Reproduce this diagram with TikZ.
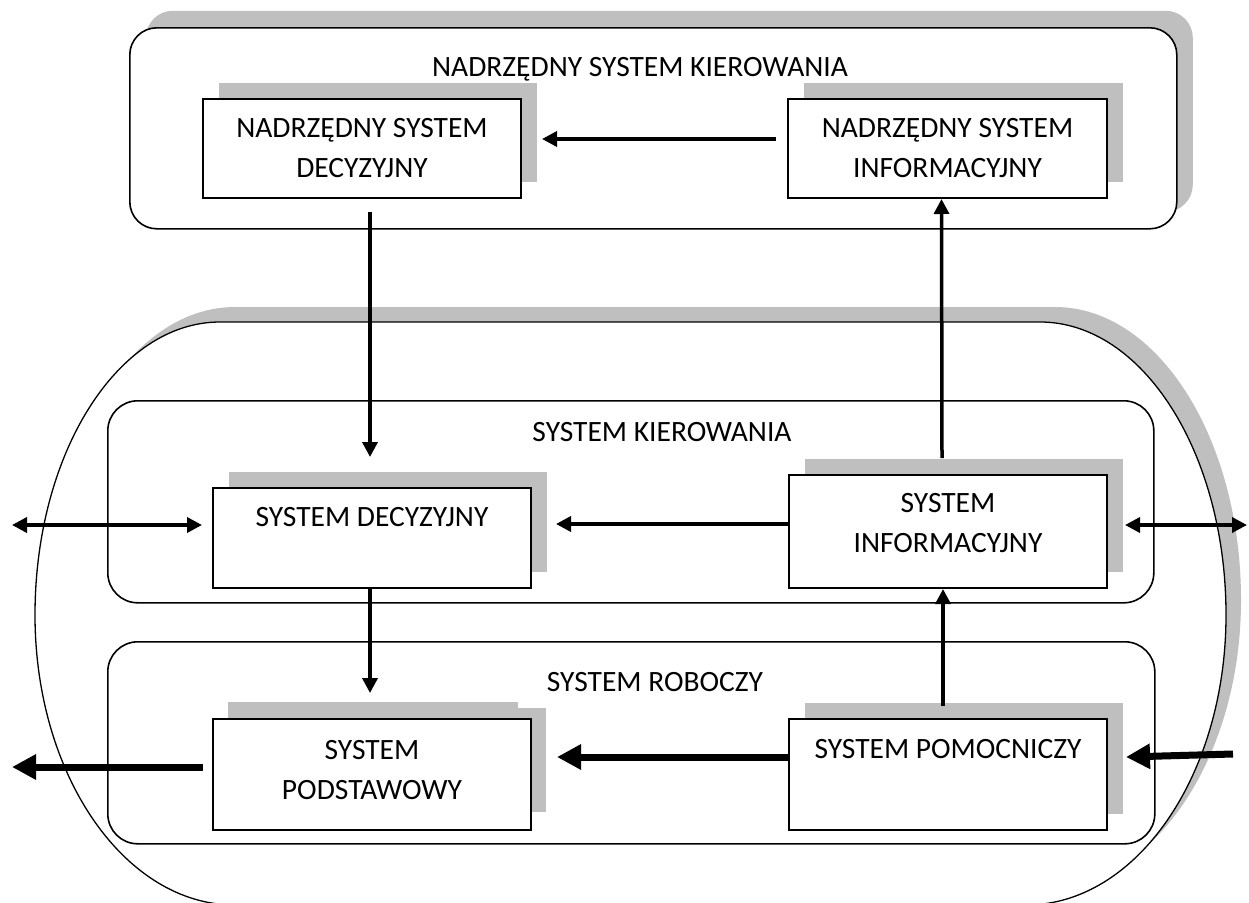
\documentclass[tikz,border=0pt]{standalone}
\usepackage{fontspec}
\setmainfont{Carlito}
\usetikzlibrary{arrows.meta,calc,shadows}
\definecolor{shadowgray}{RGB}{191,191,191}
\tikzset{
  panel/.style={draw, line width=1.6pt, rounded corners=30pt, fill=white, inner sep=0pt, anchor=north west},
  sysbox/.style={draw, line width=2pt, fill=white, inner sep=0pt, anchor=north west, minimum width=318pt},
  boxshadow/.style={general shadow={fill=shadowgray, shadow xshift=16pt, shadow yshift=16pt}},
  caption/.style={font=\fontsize{29.5}{40}\selectfont, align=center, inner sep=0pt, anchor=north},
  flow/.style={line width=3.5pt, -{Triangle[length=15pt,width=15pt]}},
  heavy/.style={line width=7pt, -{Triangle[length=24pt,width=24pt]}},
  twoway/.style={line width=3.5pt, {Triangle[length=15pt,width=15pt]}-{Triangle[length=15pt,width=15pt]}},
}
\begin{document}
\begin{tikzpicture}[x=1pt,y=-1pt]
\useasboundingbox (0,0) rectangle (1249,902);

% organisation outline (object boundary)
\path[draw, line width=1.3pt, fill=white,
      general shadow={fill=shadowgray, shadow xshift=15pt, shadow yshift=15pt}]
  (220,322) arc[start angle=270, end angle=180, x radius=185, y radius=293]
  arc[start angle=180, end angle=90, x radius=200, y radius=290]
  -- (1026,905)
  arc[start angle=90, end angle=0, x radius=200, y radius=290]
  arc[start angle=0, end angle=-90, x radius=186, y radius=293]
  -- cycle;

% superior control system panel
\node[panel, rounded corners=27pt, minimum width=1047pt, minimum height=201pt,
      general shadow={fill=shadowgray, shadow xshift=16pt, shadow yshift=17pt}] (nsk) at (129,27) {};
\node[caption] (nsk-t) at (640,57) {NADRZĘDNY SYSTEM KIEROWANIA};

% control system and working system panels
\node[panel, minimum width=1046pt, minimum height=202pt] (sk) at (107,400) {};
\node[caption] (sk-t) at (662,422) {SYSTEM KIEROWANIA};
\node[panel, minimum width=1047pt, minimum height=202pt] (sr) at (107,641) {};
\node[caption] (sr-t) at (655,672) {SYSTEM ROBOCZY};

% superior boxes
\node[sysbox, boxshadow, minimum height=99pt] (ndec) at (202,98) {};
\node[caption] (ndec-t) at ($(ndec.north)+(0,20)$) {NADRZĘDNY SYSTEM\\DECYZYJNY};
\node[sysbox, boxshadow, minimum width=319pt, minimum height=99pt] (ninf) at (787,98) {};
\node[caption] (ninf-t) at ($(ninf.north)+(0,20)$) {NADRZĘDNY SYSTEM\\INFORMACYJNY};

% control system boxes
\node[sysbox, boxshadow, minimum height=100pt] (sdec) at (212,487) {};
\node[caption] (sdec-t) at ($(sdec.north)+(0,20)$) {SYSTEM DECYZYJNY};
\node[sysbox, boxshadow, minimum height=113pt] (sinf) at (788,474) {};
\node[caption] (sinf-t) at ($(sinf.north)+(0,19)$) {SYSTEM\\INFORMACYJNY};

% working system boxes
\fill[shadowgray] (228,702) rectangle (518,718);
\fill[shadowgray] (228,708) rectangle (546,812);
\node[sysbox, minimum height=111pt] (podst) at (212,718) {};
\node[caption] (podst-t) at ($(podst.north)+(0,22)$) {SYSTEM\\PODSTAWOWY};
\node[sysbox, boxshadow, minimum height=111pt] (pom) at (788,718) {};
\node[caption] (pom-t) at ($(pom.north)+(0,21)$) {SYSTEM POMOCNICZY};

% free ends of the outer flows
\coordinate (exL) at (12,525);
\coordinate (exR) at (1247,525);
\coordinate (outL) at (12,767);
\coordinate (inR) at (1233,754);

% information and decision flows
\draw[flow] ($(ninf.north west)+(-11,41)$) -- ($(ndec.north east)+(20,41)$);
\draw[flow] ($(ndec.south)+(8,13)$) -- ($(sdec.north)+(-2,-30)$);
\draw[flow] ($(sinf.north)+(-6,-16)$) -- ($(ninf.south)+(-6,0)$);
\draw[flow] ($(sinf.north west)+(0,50)$) -- ($(sdec.north east)+(24,37)$);
\draw[flow] ($(sdec.south)+(-2,0)$) -- ($(podst.north)+(-2,-25)$);
\draw[flow] ($(pom.north)+(-5,-12)$) -- ($(sinf.south)+(-5,0)$);

% exchange with the environment
\draw[twoway] (exL) -- ($(sdec.north west)+(-10,38)$);
\draw[twoway] ($(sinf.north east)+(17,51)$) -- (exR);

% material flows
\draw[heavy] ($(pom.north west)+(0,39)$) -- ($(podst.north east)+(25,39)$);
\draw[heavy] ($(podst.north west)+(-9,49)$) -- (outL);
\draw[heavy] (inR) -- ($(pom.north east)+(18,39)$);
\end{tikzpicture}
\end{document}
